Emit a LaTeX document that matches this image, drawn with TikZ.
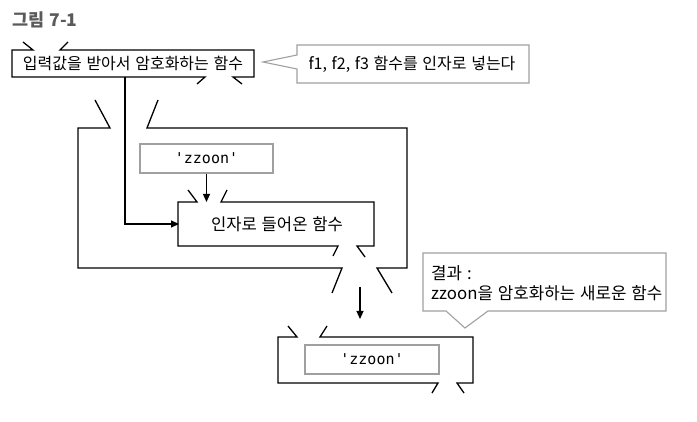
\documentclass[tikz,border=0pt]{standalone}
\usepackage{fontspec}
\setmainfont{Noto Sans CJK KR}[WordSpace=1.3]
\newfontfamily\zmono{DejaVu Sans Mono}
\usetikzlibrary{arrows.meta}
\definecolor{titlegray}{HTML}{5A5A5A}
\definecolor{boxgray}{HTML}{A0A0A0}
\begin{document}
\begin{tikzpicture}[x=1pt,y=-1pt,
  fbox/.style={line width=1.3pt, line join=miter, line cap=butt},
  gbox/.style={draw=boxgray, line width=1.1pt, fill=white, inner sep=0},
  callout/.style={draw=boxgray, line width=1.1pt, fill=white, line join=miter},
  conn/.style={line width=1.2pt, -{Triangle[length=8pt,width=7pt]}},
  txt/.style={font=\fontsize{16}{19}\selectfont, inner sep=0},
  mono/.style={font=\zmono\fontsize{15}{17}\selectfont},
  area/.style={inner sep=0, outer sep=0}]
\useasboundingbox (0,0) rectangle (697,422);

% title
\node[anchor=west, inner sep=0, text=titlegray, font=\bfseries\fontsize{17.5}{20}\selectfont] (title) at (12,20) {그림 7-1};

% box 1
\node[area, txt, minimum width=242pt, minimum height=27pt] (f1) at (133,63.5) {입력값을 받아서 암호화하는 함수};
\draw[fbox] (23,42) -- (33,50) -- (12,50) -- (12,77) -- (205,77) -- (197,84);
\draw[fbox] (68,42) -- (60,50) -- (254,50) -- (254,77) -- (233,77) -- (242,84);

% callout 1
\draw[callout] (297,45) -- (529,45) -- (529,83) -- (297,83) -- (297,69) -- (263,62) -- (297,55) -- cycle;
\node[txt] (c1) at (412,64) {f1, f2, f3 함수를 인자로 넣는다};

% box 2 (outer)
\node[area, minimum width=329pt, minimum height=140pt] (f2) at (242.5,198) {};
\draw[fbox] (95,100) -- (110,128) -- (78,128) -- (78,268) -- (342,268) -- (332,293);
\draw[fbox] (158,100) -- (147,128) -- (407,128) -- (407,268) -- (377,268) -- (392,293);

% zzoon box 1
\node[gbox, mono, minimum width=133pt, minimum height=29pt] (z1) at (206.5,158.5) {'zzoon'};

% box 3
\node[area, txt, font=\fontsize{16.6}{19}\selectfont, minimum width=196pt, minimum height=44pt] (f3) at (277,224) {인자로 들어온 함수};
\draw[fbox] (188,190) -- (197,202) -- (178,202) -- (178,246) -- (338,246) -- (333,256);
\draw[fbox] (227,190) -- (221,202) -- (374,202) -- (374,246) -- (357,246) -- (365,257);

% connectors into box 3
\draw[conn] (f1.south west) ++(113,0) |- (f3.west);
\draw[conn] (z1.south) -- (z1.south |- f3.north);

% callout 2
\draw[callout] (423,253) -- (666,253) -- (666,311) -- (488,311) -- (465,328) -- (446,311) -- (423,311) -- cycle;
\node[txt, anchor=west, align=left, font=\fontsize{16.8}{20}\selectfont] (c2) at (431,283) {결과 :\\zzoon을 암호화하는 새로운 함수};

% output arrow
\coordinate (o1) at (360,287);
\coordinate (o2) at (360,319);
\draw[conn] (o1) -- (o2);

% box 4
\node[area, minimum width=195pt, minimum height=46pt] (f4) at (375.5,360) {};
\draw[fbox] (288,326) -- (297,337) -- (278,337) -- (278,383) -- (438,383) -- (432,393);
\draw[fbox] (327,326) -- (320,337) -- (473,337) -- (473,383) -- (457,383) -- (464,393);
\node[gbox, mono, minimum width=134pt, minimum height=29pt] (z2) at (372,359.5) {'zzoon'};
\end{tikzpicture}
\end{document}
